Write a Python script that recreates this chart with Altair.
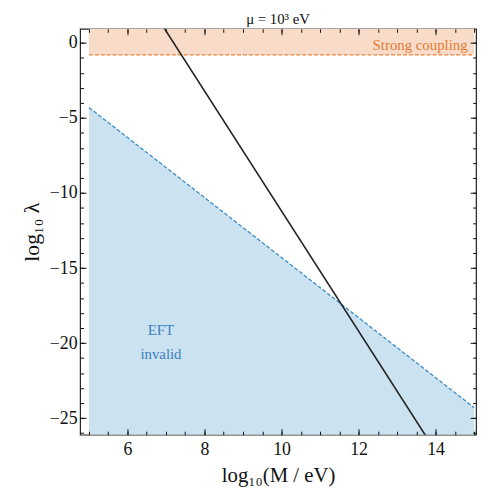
import altair as alt
import pandas as pd

# ---- data ----
x_domain = [4.77, 15.05]
y_domain = [-26.1, 0.94]

strong_x = [5, 15]
strong_lo = [-0.8, -0.8]
strong_hi = [1.0, 1.0]

eft_x = [5, 15]
eft_y = [-4.3, -24.3]
eft_floor = [-26.1, -26.1]

curve_x = [6.9, 13.8]
curve_y = [1.2, -26.4]

x_major = [6, 8, 10, 12, 14]
x_minor = [5 + 0.5 * i for i in range(21)]
y_major = [0, -5, -10, -15, -20, -25]
y_minor = list(range(-26, 1))

label_x = [14.83, 6.87]
label_y = [-0.12, -19.1]
label_text = ["Strong coupling", "EFT\ninvalid"]

FONT = "Liberation Serif"
ORANGE_FILL = "#f8dcc9"
ORANGE = "#e8843e"
BLUE_FILL = "#cbe2f0"
BLUE = "#3a8cc8"

xs = alt.Scale(domain=x_domain, nice=False, zero=False)
ys = alt.Scale(domain=y_domain, nice=False, zero=False)

strong_df = pd.DataFrame({"x": strong_x, "lo": strong_lo, "hi": strong_hi})
eft_df = pd.DataFrame({"x": eft_x, "y": eft_y, "floor": eft_floor})
curve_df = pd.DataFrame({"x": curve_x, "y": curve_y})
labels_df = pd.DataFrame({"x": label_x, "y": label_y, "t": label_text})

band = alt.Chart(strong_df).mark_area(color=ORANGE_FILL, clip=True).encode(
    x=alt.X("x:Q", scale=xs, axis=None),
    y=alt.Y("lo:Q", scale=ys, axis=None),
    y2="hi:Q",
)
band_line = alt.Chart(strong_df).mark_line(color=ORANGE, strokeDash=[4, 2], strokeWidth=1.3).encode(
    x=alt.X("x:Q", scale=xs, axis=None),
    y=alt.Y("lo:Q", scale=ys, axis=None),
)
eft = alt.Chart(eft_df).mark_area(color=BLUE_FILL, clip=True).encode(
    x=alt.X("x:Q", scale=xs, axis=None),
    y=alt.Y("y:Q", scale=ys, axis=None),
    y2="floor:Q",
)
eft_line = alt.Chart(eft_df).mark_line(color=BLUE, strokeDash=[4, 2], strokeWidth=1.3).encode(
    x=alt.X("x:Q", scale=xs, axis=None),
    y=alt.Y("y:Q", scale=ys, axis=None),
)
curve = alt.Chart(curve_df).mark_line(color="#222222", strokeWidth=1.6, clip=True).encode(
    x=alt.X("x:Q", scale=xs, axis=None),
    y=alt.Y("y:Q", scale=ys, axis=None),
)

strong_text = alt.Chart(labels_df.iloc[[0]]).mark_text(
    font=FONT, fontSize=15, align="right", baseline="middle", color="#e27a32"
).encode(x=alt.X("x:Q", scale=xs, axis=None), y=alt.Y("y:Q", scale=ys, axis=None), text="t:N")
eft_text = alt.Chart(labels_df.iloc[[1]]).mark_text(
    font=FONT, fontSize=15, align="center", baseline="middle", color="#3a7fc0",
    lineBreak="\n", lineHeight=25
).encode(x=alt.X("x:Q", scale=xs, axis=None), y=alt.Y("y:Q", scale=ys, axis=None), text="t:N")

dummy = pd.DataFrame({"x": [10], "y": [-10]})


def axis_layer(orient_x, orient_y, xvals, yvals, size, labels, xtitle=None, ytitle=None):
    ax = dict(orient=orient_x, values=xvals, tickSize=size, offset=-size, domain=False,
              labels=labels, grid=False, tickColor="#111111", tickWidth=1, zindex=1,
              labelFont=FONT, labelFontSize=18, labelColor="#111111", labelPadding=6,
              title=xtitle, titleFont=FONT, titleFontSize=21,
              titleFontWeight="normal", titleColor="#111111", titlePadding=6)
    ay = dict(orient=orient_y, values=yvals, tickSize=size, offset=-size, domain=False,
              labels=labels, grid=False, tickColor="#111111", tickWidth=1, zindex=1,
              labelFont=FONT, labelFontSize=18, labelColor="#111111", labelPadding=3,
              title=ytitle, titleFont=FONT, titleFontSize=22,
              titleFontWeight="normal", titleColor="#111111", titlePadding=6)
    return alt.Chart(dummy).mark_point(opacity=0).encode(
        x=alt.X("x:Q", scale=xs, axis=alt.Axis(**ax)),
        y=alt.Y("y:Q", scale=ys, axis=alt.Axis(**ay)),
    )


ax1 = axis_layer("bottom", "left", x_major, y_major, 6, True, "log₁₀(M / eV)", "log₁₀ λ")
ax2 = axis_layer("bottom", "left", x_minor, y_minor, 3.5, False)
ax3 = axis_layer("top", "right", x_major, y_major, 6, False)
ax4 = axis_layer("top", "right", x_minor, y_minor, 3.5, False)

chart = alt.layer(
    band, eft, band_line, eft_line, curve, strong_text, eft_text, ax1, ax2, ax3, ax4
).resolve_axis(x="independent", y="independent").properties(
    width=401,
    height=411,
    padding={"left": 73, "top": 18, "right": 4, "bottom": 58},
    autosize=alt.AutoSizeParams(type="none"),
    title=alt.Title("μ = 10³ eV", font=FONT, fontSize=15, fontWeight="normal",
                    color="#111111", offset=1),
).configure_view(stroke="#222222", strokeWidth=1.2)

chart.save("out.html", embed_options={"renderer": "svg", "actions": False})
